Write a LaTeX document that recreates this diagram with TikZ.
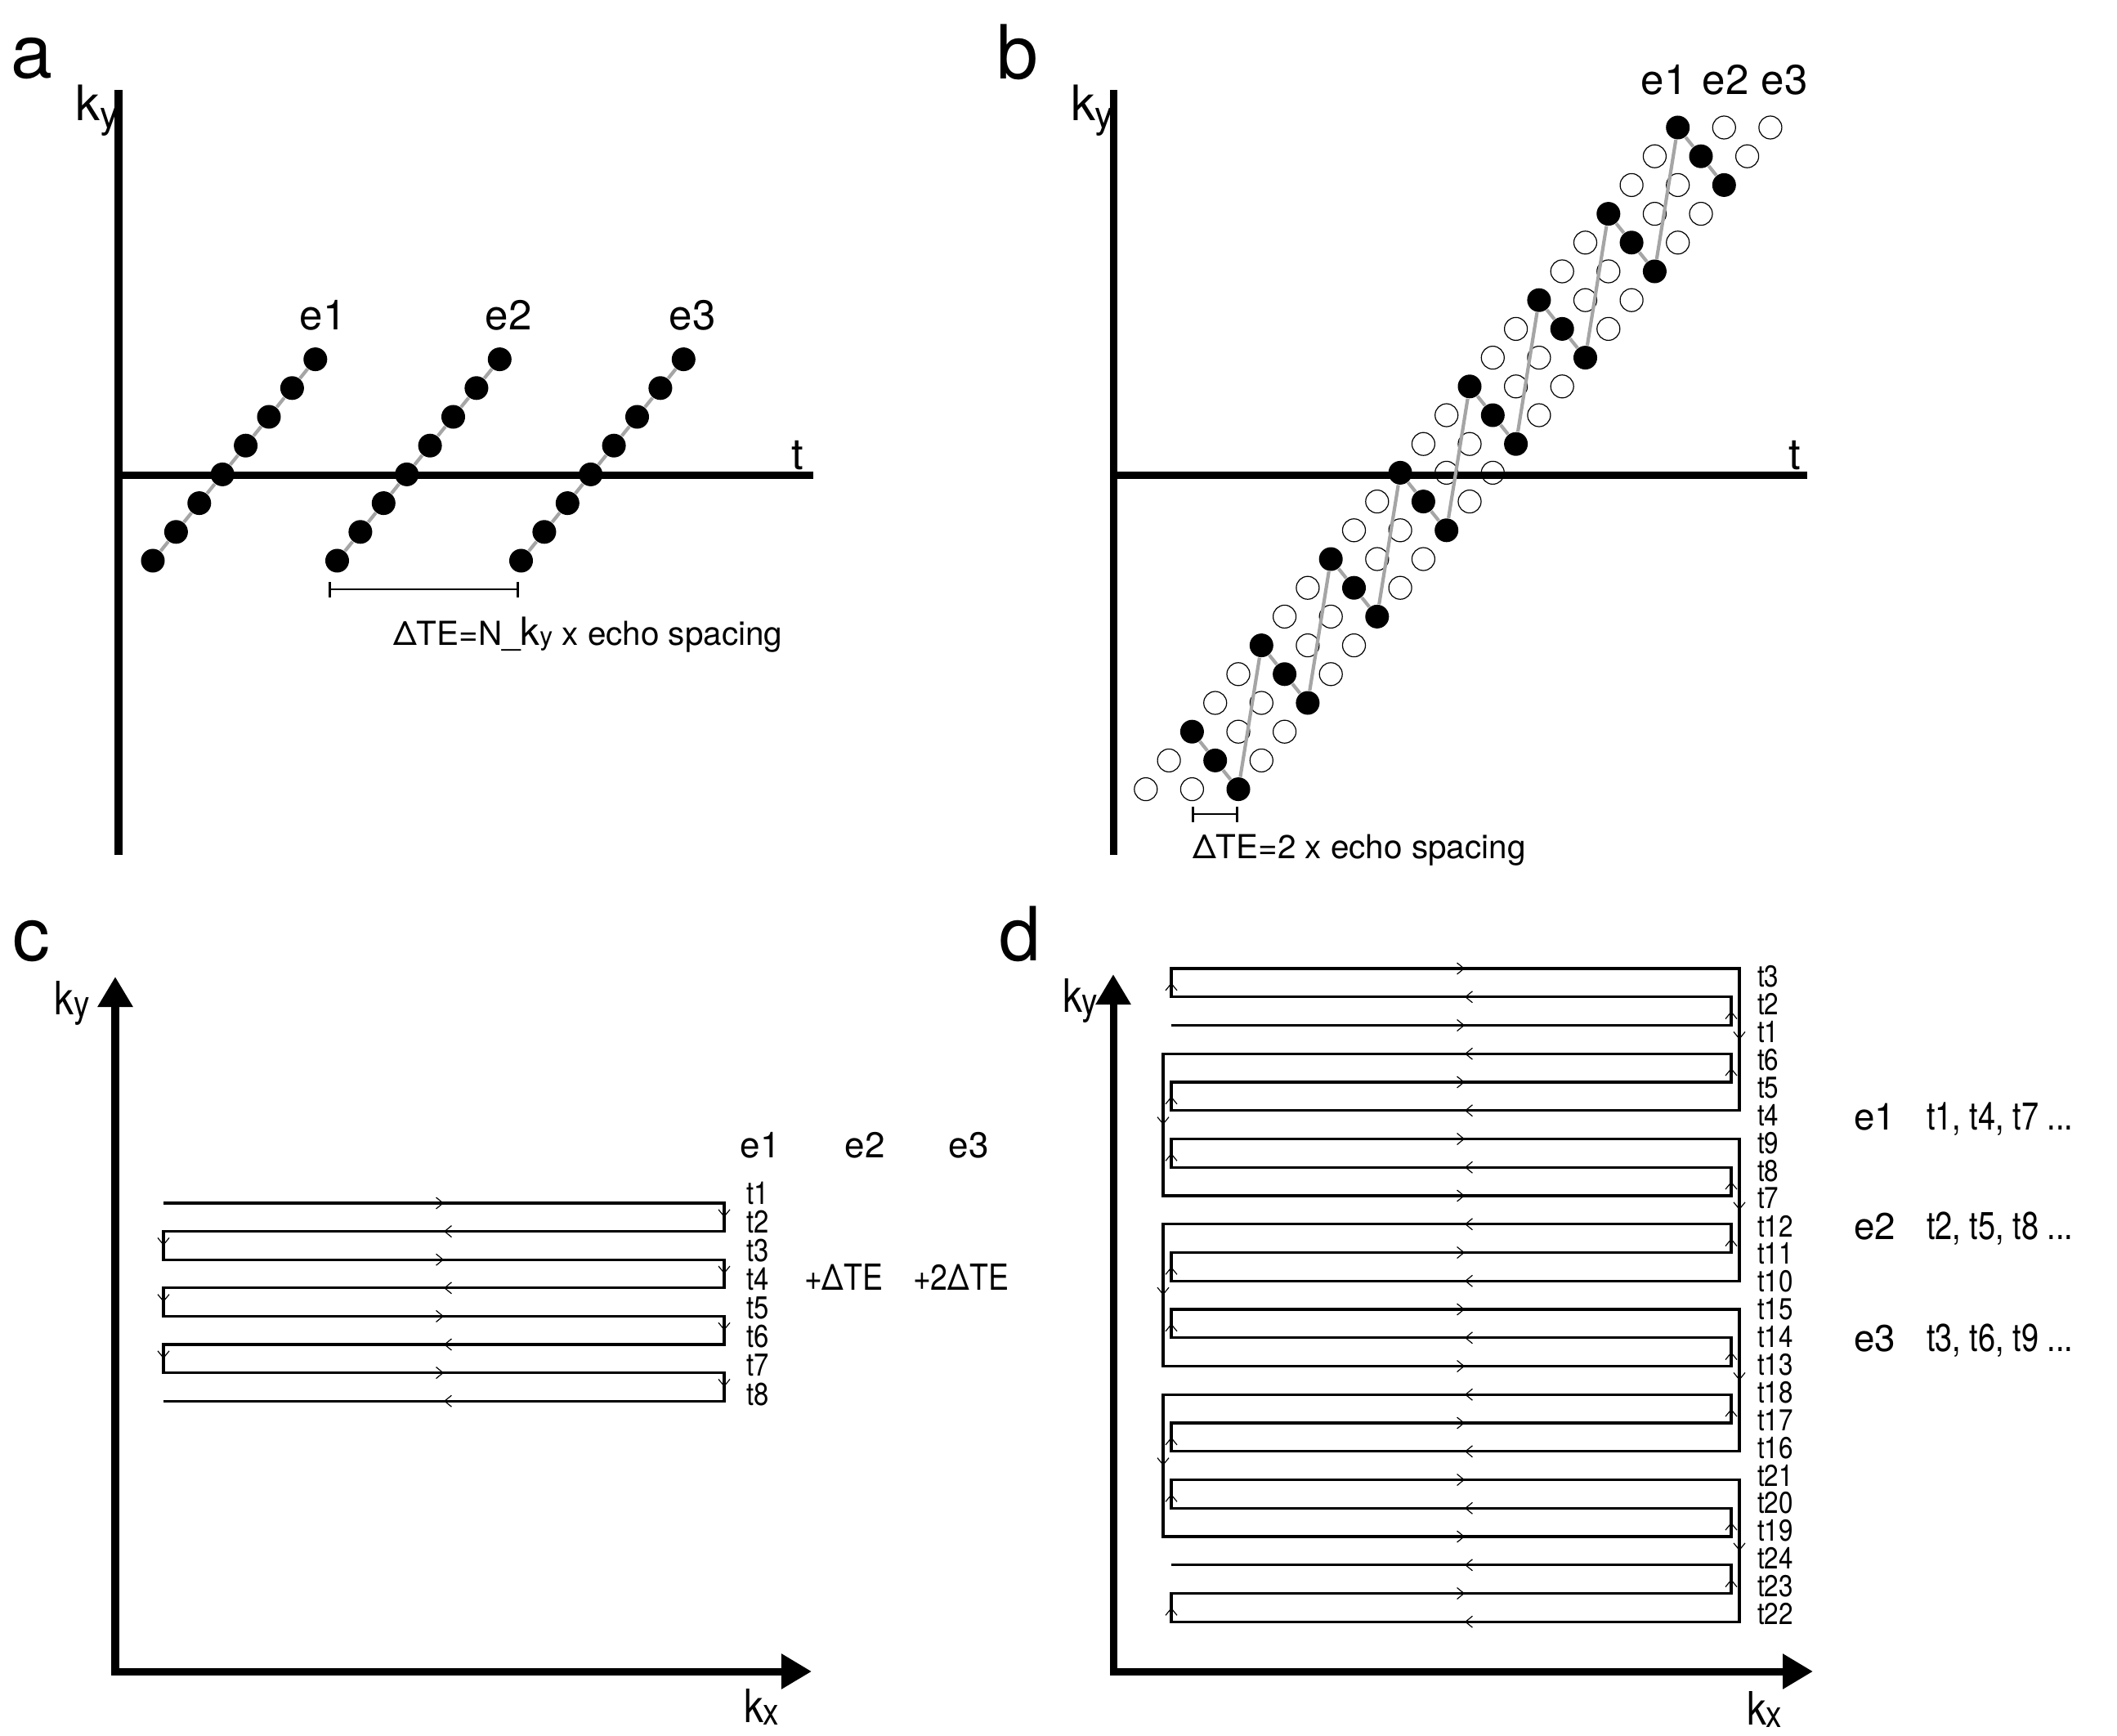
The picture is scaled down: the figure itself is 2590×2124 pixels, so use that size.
\documentclass[tikz,border=0pt]{standalone}
\usepackage{fontspec}
\setmainfont{TeX Gyre Heros}
\newfontfamily\narrowA{TeX Gyre Heros}[FakeStretch=0.85]
\newfontfamily\narrowB{TeX Gyre Heros}[FakeStretch=0.8]
\usetikzlibrary{arrows.meta,decorations.markings}
\definecolor{dotline}{RGB}{165,165,165}
\newcommand{\myfs}[1]{\fontsize{#1}{#1}\selectfont}

\begin{document}
\begin{tikzpicture}[x=0.01cm,y=-0.01cm,
  txt/.style={inner sep=0pt,outer sep=0pt},
  panel/.style={txt,anchor=base west,font=\myfs{26}},
  axis/.style={line width=0.09cm},
  kaxis/.style={line width=0.09cm,line join=miter,arrows={Triangle[length=0.37cm,width=0.41cm]-Triangle[length=0.37cm,width=0.41cm]}},
  bdot/.style={circle,fill=black,inner sep=0pt,minimum size=0.29cm},
  odot/.style={circle,draw=black,line width=0.012cm,inner sep=0pt,minimum size=0.28cm},
  gline/.style={draw=dotline,line width=0.042cm},
  brk/.style={line width=0.028cm,arrows={Bar[width=0.19cm]-Bar[width=0.19cm]}},
  sline/.style={line width=0.032cm,line join=miter},
  marr/.style={decoration={markings,mark=at position 0.5 with {\arrow{Straight Barb[length=0.085cm,width=0.14cm,line width=0.012cm]}}},decorate},
  elab/.style={txt,anchor=base,font=\myfs{14.5}},
  small/.style={txt,anchor=base west,font=\myfs{11.5}},
  tlabc/.style={txt,anchor=west,font=\narrowA\myfs{11}},
  tlabd/.style={txt,anchor=west,font=\narrowA\myfs{10.5}},
  dte/.style={txt,anchor=base west,font=\narrowA\myfs{12.5}},
  elabd/.style={txt,anchor=base west,font=\myfs{13}},
  tlist/.style={txt,anchor=base west,font=\narrowB\myfs{13.5}},
]
\useasboundingbox (0,0) rectangle (2590,2124);

% ---------------- panel a ----------------
\node[panel] (pa) at (13,95) {a};
\draw[axis] (145,110) -- (145,1046);
\draw[axis] (145,581) -- (995,581);
\node[txt,anchor=base west] (kya) at (93,147) {\myfs{17}k\raisebox{-0.09cm}{\myfs{13}y}};
\node[txt,anchor=base] (ta) at (976,574) {\myfs{15}t};
\foreach \e/\ox in {1/0,2/225.5,3/450.5}{
  \foreach \j in {0,...,7}{
    \node[bdot] (a\e-\j) at ({187+\ox+28.4*\j},{686-35.2*\j}) {};
  }
  \foreach \j [evaluate=\j as \k using int(\j+1)] in {0,...,6}{
    \draw[gline] (a\e-\j) -- (a\e-\k);
  }
}
\node[elab] (ea1) at (395,403) {e1};
\node[elab] (ea2) at (622,403) {e2};
\node[elab] (ea3) at (847,403) {e3};
\coordinate (bra1) at (402,721);
\coordinate (bra2) at (635,721);
\draw[brk] (bra1) -- (bra2);
\node[small] (dtea) at (481,789) {ΔTE=N\_{\myfs{13.5}k}{\myfs{9}y} x echo spacing};

% ---------------- panel b ----------------
\node[panel] (pb) at (1219,97) {b};
\draw[axis] (1362,110) -- (1362,1046);
\draw[axis] (1362,581) -- (2211,581);
\node[txt,anchor=base west] (kyb) at (1310,147) {\myfs{17}k\raisebox{-0.09cm}{\myfs{13}y}};
\node[txt,anchor=base] (tb) at (2196,574) {\myfs{15}t};
\foreach \r in {0,...,23}{
  \foreach \k in {0,1,2}{
    \pgfmathtruncatemacro\m{mod(\r,3)}
    \pgfmathsetmacro\xx{2052.7-28.3*\r+56.6*\k}
    \pgfmathsetmacro\yy{156+35.2*\r}
    \ifnum\m=\k
      \node[bdot] (b\r-\k) at (\xx,\yy) {};
    \else
      \node[odot] (b\r-\k) at (\xx,\yy) {};
    \fi
  }
}
\draw[gline] (b21-0) -- (b22-1) -- (b23-2) -- (b18-0) -- (b19-1) -- (b20-2)
  -- (b15-0) -- (b16-1) -- (b17-2) -- (b12-0) -- (b13-1) -- (b14-2)
  -- (b9-0) -- (b10-1) -- (b11-2) -- (b6-0) -- (b7-1) -- (b8-2)
  -- (b3-0) -- (b4-1) -- (b5-2) -- (b0-0) -- (b1-1) -- (b2-2);
\node[elab] (eb1) at (2036,115) {e1};
\node[elab] (eb2) at (2111,115) {e2};
\node[elab] (eb3) at (2183,115) {e3};
\coordinate (brb1) at (1458,996);
\coordinate (brb2) at (1515,996);
\draw[brk] (brb1) -- (brb2);
\node[small] (dteb) at (1459,1050) {ΔTE=2 x echo spacing};

% ---------------- panel c ----------------
\node[panel] (pc) at (15,1175) {c};
\coordinate (cTop) at (141,1195);
\coordinate (cO) at (141,2045);
\coordinate (cRight) at (993,2045);
\draw[kaxis] (cTop) -- (cO) -- (cRight);
\node[txt,anchor=base west] (kyc) at (67,1241) {\narrowA\myfs{16}k\raisebox{-0.03cm}{\myfs{13}y}};
\node[txt,anchor=base west] (kxc) at (910,2107) {\narrowA\myfs{16}k\raisebox{-0.03cm}{\myfs{13}x}};
\foreach \i in {0,...,7}{
  \pgfmathsetmacro\yy{1472+34.6*\i}
  \coordinate (cL\i) at (200,\yy);
  \coordinate (cR\i) at (886,\yy);
}
\draw[sline] (cL0) -- (cR0) -- (cR1) -- (cL1) -- (cL2) -- (cR2) -- (cR3) -- (cL3)
  -- (cL4) -- (cR4) -- (cR5) -- (cL5) -- (cL6) -- (cR6) -- (cR7) -- (cL7);
\foreach \a/\b in {cL0/cR0,cR0/cR1,cR1/cL1,cL1/cL2,cL2/cR2,cR2/cR3,cR3/cL3,cL3/cL4,
  cL4/cR4,cR4/cR5,cR5/cL5,cL5/cL6,cL6/cR6,cR6/cR7,cR7/cL7}{
  \path[marr] (\a) -- (\b);
}
\foreach \i in {1,...,8}{
  \node[tlabc] (ct\i) at (913,{1460+35.1*(\i-1)}) {t\i};
}
\node[txt,anchor=base,font=\myfs{12.5}] (ce1) at (930,1416) {e1};
\node[txt,anchor=base,font=\myfs{12.5}] (ce2) at (1058,1416) {e2};
\node[txt,anchor=base,font=\myfs{12.5}] (ce3) at (1185,1416) {e3};
\node[dte] (cdte1) at (984,1578) {+ΔTE};
\node[dte] (cdte2) at (1117,1578) {+2ΔTE};

% ---------------- panel d ----------------
\node[panel] (pd) at (1222,1175) {d};
\coordinate (dTop) at (1362,1192);
\coordinate (dO) at (1362,2045);
\coordinate (dRight) at (2218,2045);
\draw[kaxis] (dTop) -- (dO) -- (dRight);
\node[txt,anchor=base west] (kyd) at (1300,1238) {\narrowA\myfs{16}k\raisebox{-0.03cm}{\myfs{13}y}};
\node[txt,anchor=base west] (kxd) at (2137,2110) {\narrowA\myfs{16}k\raisebox{-0.03cm}{\myfs{13}x}};
\foreach \i in {0,...,23}{
  \pgfmathsetmacro\yy{1185+34.75*\i}
  \coordinate (dL\i) at (1433,\yy);
  \coordinate (dLo\i) at (1423,\yy);
  \coordinate (dR\i) at (2118,\yy);
  \coordinate (dRo\i) at (2128,\yy);
  \coordinate (dM\i) at (1792,\yy);
}
\draw[sline] (dL2) -- (dR2) -- (dR1) -- (dL1) -- (dL0) -- (dRo0) -- (dRo5) -- (dL5)
  -- (dL4) -- (dR4) -- (dR3) -- (dLo3) -- (dLo8) -- (dR8) -- (dR7) -- (dL7)
  -- (dL6) -- (dRo6) -- (dRo11) -- (dL11) -- (dL10) -- (dR10) -- (dR9) -- (dLo9)
  -- (dLo14) -- (dR14) -- (dR13) -- (dL13) -- (dL12) -- (dRo12) -- (dRo17) -- (dL17)
  -- (dL16) -- (dR16) -- (dR15) -- (dLo15) -- (dLo20) -- (dR20) -- (dR19) -- (dL19)
  -- (dL18) -- (dRo18) -- (dRo23) -- (dL23) -- (dL22) -- (dR22) -- (dR21) -- (dL21);
% vertical direction marks
\foreach \a/\b in {dR2/dR1,dL1/dL0,dRo0/dRo5,dL5/dL4,dR4/dR3,dLo3/dLo8,dR8/dR7,dL7/dL6,
  dRo6/dRo11,dL11/dL10,dR10/dR9,dLo9/dLo14,dR14/dR13,dL13/dL12,dRo12/dRo17,dL17/dL16,
  dR16/dR15,dLo15/dLo20,dR20/dR19,dL19/dL18,dRo18/dRo23,dL23/dL22,dR22/dR21}{
  \path[marr] (\a) -- (\b);
}
% horizontal direction marks (right-going / left-going)
\foreach \i in {2,0,4,8,6,10,14,12,16,20,18,22}{
  \path[marr] ([xshift=-0.1cm]dM\i) -- ([xshift=0.1cm]dM\i);
}
\foreach \i in {1,5,3,7,11,9,13,17,15,19,23,21}{
  \path[marr] ([xshift=0.1cm]dM\i) -- ([xshift=-0.1cm]dM\i);
}
\foreach \lab [count=\i from 0] in {3,2,1,6,5,4,9,8,7,12,11,10,15,14,13,18,17,16,21,20,19,24,23,22}{
  \node[tlabd] (dt\lab) at (2150,{1195+33.9*\i}) {t\lab};
}
\node[elabd] (de1) at (2268,1382) {e1};
\node[tlist] (de1t) at (2357,1382) {t1, t4, t7 ...};
\node[elabd] (de2) at (2268,1516) {e2};
\node[tlist] (de2t) at (2357,1516) {t2, t5, t8 ...};
\node[elabd] (de3) at (2268,1653) {e3};
\node[tlist] (de3t) at (2357,1653) {t3, t6, t9 ...};
\end{tikzpicture}
\end{document}
